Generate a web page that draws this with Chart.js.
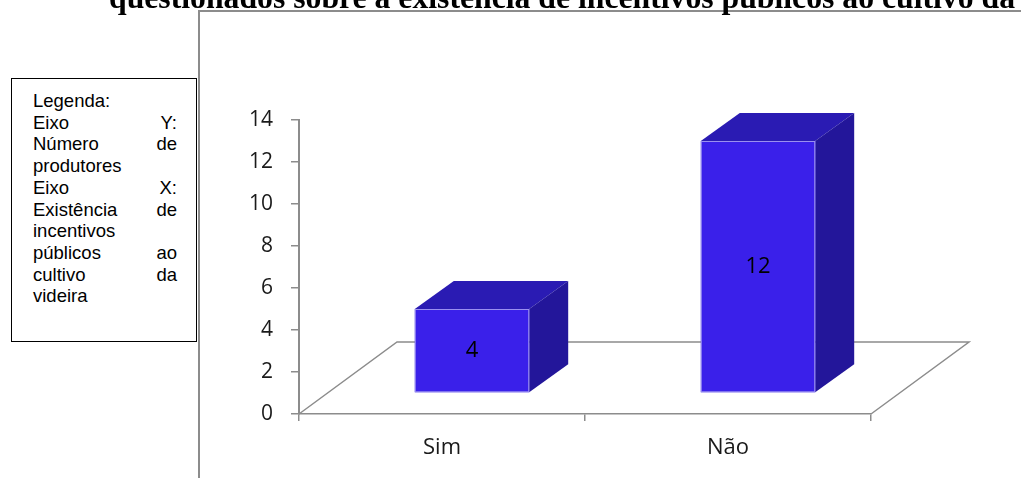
<!DOCTYPE html>
<html lang="pt">
<head>
<meta charset="utf-8">
<title>Incentivos públicos ao cultivo da videira</title>
<script src="https://cdn.jsdelivr.net/npm/chart.js@4.4.1/dist/chart.umd.min.js"></script>
<style>
  html, body { margin: 0; padding: 0; background: #fff; }
  body { width: 1021px; height: 478px; position: relative; overflow: hidden; }
  canvas { position: absolute; left: 0; top: 0; }
  #moldura {
    position: absolute; left: 198px; top: 10px; width: 900px; height: 500px;
    border-left: 2px solid #8c8c8c; border-top: 2px solid #8c8c8c;
  }
  #legenda {
    position: absolute; left: 11px; top: 78px; width: 186px; height: 264px;
    box-sizing: border-box; border: 1.5px solid #000; background: #fff;
    font: 18.5px "Liberation Sans", Arial, sans-serif; color: #000;
    padding: 11px 0 0 21px;
  }
  #legenda div { display: flex; justify-content: space-between; width: 144px; line-height: 21.7px; }
</style>
</head>
<body>
<div id="moldura"></div>
<div id="legenda">
  <div><span>Legenda:</span></div>
  <div><span>Eixo</span><span>Y:</span></div>
  <div><span>Número</span><span>de</span></div>
  <div><span>produtores</span></div>
  <div><span>Eixo</span><span>X:</span></div>
  <div><span>Existência</span><span>de</span></div>
  <div><span>incentivos</span></div>
  <div><span>públicos</span><span>ao</span></div>
  <div><span>cultivo</span><span>da</span></div>
  <div><span>videira</span></div>
</div>
<canvas id="grafico" width="1021" height="478"></canvas>
<script>
// dados do gráfico
const categorias = ['Sim', 'Não'];
const produtores = [4, 12];
const ticksY = [0, 2, 4, 6, 8, 10, 12, 14];
const titulo = 'questionados sobre a existência de incentivos públicos ao cultivo da';

// perspectiva do piso e das caixas
const piso = { dx: 98, dy: 72 };
const recuo = { dx: 30, dy: 21 };
const prof = { dx: 39, dy: 28 };
const cores = { frente: '#3a20ea', topo: '#2a1bb3', lado: '#23169a', aresta: '#9a90f0' };
const cinza = '#8c8c8c';

const caixas3d = {
  id: 'caixas3d',
  beforeDraw(chart) {
    const ctx = chart.ctx;
    ctx.save();
    ctx.font = 'bold 32px "Liberation Serif", "Times New Roman", serif';
    ctx.fillStyle = '#000';
    ctx.textBaseline = 'alphabetic';
    ctx.fillText(titulo, 109, 8, 906);
    ctx.restore();
  },
  beforeDatasetsDraw(chart) {
    const { ctx, chartArea: a } = chart;
    ctx.save();
    ctx.strokeStyle = cinza;
    ctx.lineWidth = 1.5;
    ctx.beginPath();
    ctx.moveTo(a.left, a.bottom);
    ctx.lineTo(a.left + piso.dx, a.bottom - piso.dy);
    ctx.lineTo(a.right + piso.dx, a.bottom - piso.dy);
    ctx.lineTo(a.right, a.bottom);
    ctx.stroke();
    ctx.restore();
  },
  // as barras planas do Chart.js dão lugar às caixas
  beforeDatasetDraw() {
    return false;
  },
  afterDatasetsDraw(chart) {
    const ctx = chart.ctx;
    const meta = chart.getDatasetMeta(0);
    const poly = (pts, cor) => {
      ctx.beginPath();
      pts.forEach(([px, py], k) => (k ? ctx.lineTo(px, py) : ctx.moveTo(px, py)));
      ctx.closePath();
      ctx.fillStyle = cor;
      ctx.fill();
    };
    ctx.save();
    meta.data.forEach((bar, i) => {
      const { x, y, base, width } = bar.getProps(['x', 'y', 'base', 'width'], true);
      const l = x - width / 2 + recuo.dx, r = x + width / 2 + recuo.dx;
      const t = y - recuo.dy, b = base - recuo.dy;
      poly([[l, t], [l + prof.dx, t - prof.dy], [r + prof.dx, t - prof.dy], [r, t]], cores.topo);
      poly([[r, t], [r + prof.dx, t - prof.dy], [r + prof.dx, b - prof.dy], [r, b]], cores.lado);
      ctx.fillStyle = cores.frente;
      ctx.fillRect(l, t, r - l, b - t);
      ctx.strokeStyle = cores.aresta;
      ctx.lineWidth = 1;
      ctx.strokeRect(l + 0.5, t + 0.5, r - l - 1, b - t - 1);

      ctx.fillStyle = '#000';
      ctx.font = '22px "Open Sans", sans-serif';
      ctx.textAlign = 'center';
      ctx.textBaseline = 'middle';
      ctx.fillText(String(produtores[i]), (l + r) / 2, (t + b) / 2);
    });
    ctx.restore();
  }
};

new Chart(document.getElementById('grafico'), {
  type: 'bar',
  data: {
    labels: categorias,
    datasets: [{
      data: produtores,
      backgroundColor: cores.frente,
      categoryPercentage: 0.8,
      barPercentage: 0.5
    }]
  },
  options: {
    responsive: false,
    animation: false,
    layout: { padding: { top: 120, right: 150, left: 0, bottom: 0 } },
    plugins: { legend: { display: false }, tooltip: { enabled: false } },
    scales: {
      x: {
        afterFit: s => { s.height = 64; },
        grid: { drawOnChartArea: false, tickLength: 7, color: cinza, lineWidth: 1.5 },
        border: { color: cinza, width: 1.5 },
        ticks: { color: '#1a1a1a', font: { family: 'Open Sans', size: 22 }, padding: 14 }
      },
      y: {
        min: 0,
        max: 14,
        afterFit: s => { s.width = 299; },
        afterBuildTicks: s => { s.ticks = ticksY.map(v => ({ value: v })); },
        grid: { drawOnChartArea: false, tickLength: 8, color: cinza, lineWidth: 1.5 },
        border: { color: cinza, width: 2 },
        ticks: { color: '#1a1a1a', font: { family: 'Open Sans', size: 21 }, padding: 18 }
      }
    }
  },
  plugins: [caixas3d]
});
</script>
</body>
</html>
